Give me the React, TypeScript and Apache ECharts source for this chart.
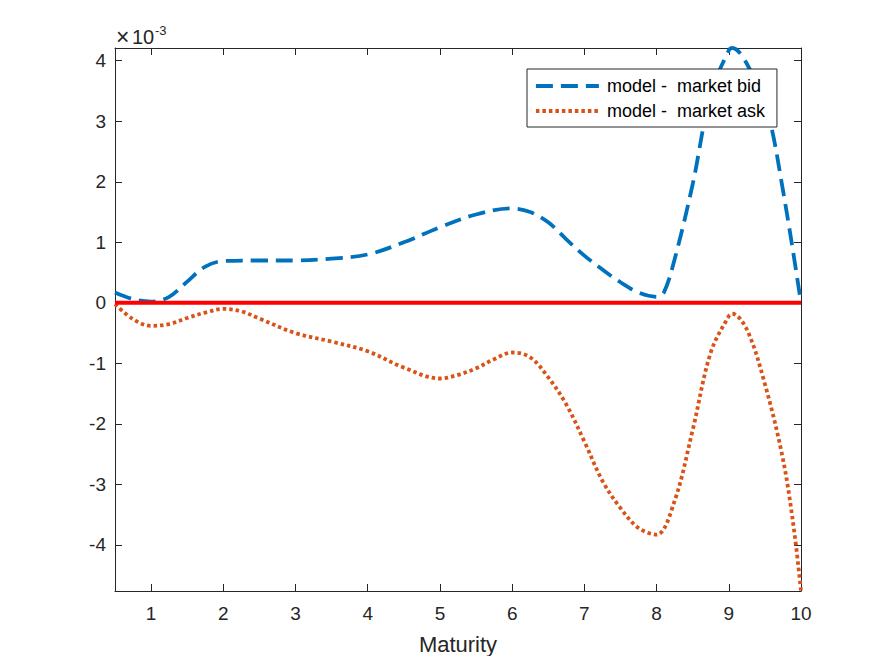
import React, { useEffect, useRef } from "react";
import * as echarts from "echarts";

// Maturity (x) and values in units of 1e-3
const bidX = [0.5, 0.75, 1.0, 1.25, 1.5, 1.75, 2.0, 2.5, 3.0, 3.5, 4.0, 4.5, 5.0, 5.5, 6.0, 6.25, 6.5, 6.75, 7.0, 7.25, 7.5, 7.75, 8.0, 8.1, 8.25, 8.5, 8.75, 9.0, 9.05, 9.25, 9.5, 9.6, 9.73, 9.87, 10.0];
const bidY = [0.17, 0.06, 0.02, 0.1, 0.35, 0.6, 0.69, 0.7, 0.7, 0.73, 0.8, 1.0, 1.25, 1.46, 1.56, 1.5, 1.33, 1.05, 0.78, 0.55, 0.34, 0.17, 0.1, 0.17, 0.72, 1.96, 3.45, 4.17, 4.21, 3.95, 3.25, 2.85, 2.0, 1.0, 0.0];

const askX = [0.5, 0.75, 1.0, 1.25, 1.5, 1.75, 2.0, 2.25, 2.5, 3.0, 3.5, 4.0, 4.5, 5.0, 5.25, 5.5, 5.75, 6.0, 6.25, 6.5, 6.75, 7.0, 7.25, 7.5, 7.75, 8.0, 8.25, 8.5, 8.75, 9.0, 9.05, 9.25, 9.5, 9.75, 9.9, 10.0];
const askY = [-0.02, -0.27, -0.38, -0.35, -0.25, -0.16, -0.1, -0.14, -0.26, -0.5, -0.64, -0.8, -1.07, -1.25, -1.19, -1.08, -0.93, -0.82, -0.9, -1.23, -1.68, -2.29, -2.94, -3.39, -3.72, -3.83, -3.27, -2.1, -0.82, -0.22, -0.18, -0.44, -1.34, -2.58, -3.72, -4.76];

const zeroX = [0.5, 10];
const zeroY = [0, 0];

const seriesNames = ["model -  market bid", "model -  market ask"];
const xRange = [0.5, 10];
const yRange = [-4.76, 4.21];
const exponentText = ["×", "10", "-3"];
const xAxisTitle = "Maturity";

const FONT = "'Liberation Sans', Arial, Helvetica, sans-serif";
const AX = "#262626";

function pairs(xs: number[], ys: number[]) {
  return xs.map((x, i) => [x, ys[i]]);
}

function intLabel(v: number) {
  return Math.abs(v - Math.round(v)) < 1e-6 ? String(Math.round(v)) : "";
}

export default function App() {
  const ref = useRef<HTMLDivElement>(null);
  useEffect(() => {
    if (!ref.current) return;
    const chart = echarts.init(ref.current, undefined, { renderer: "svg" });
    const axisCommon = {
      axisLine: { show: true, onZero: false, lineStyle: { color: AX, width: 1 } },
      axisTick: { show: true, inside: true, length: 7, lineStyle: { color: AX, width: 1 } },
      splitLine: { show: false },
    };
    chart.setOption({
      animation: false,
      backgroundColor: "#fff",
      grid: { left: 115, right: 84, top: 48, bottom: 73, containLabel: false },
      xAxis: [
        {
          type: "value",
          min: xRange[0],
          max: xRange[1],
          splitNumber: 10,
          position: "bottom",
          ...axisCommon,
          axisLabel: {
            formatter: intLabel,
            color: AX,
            fontFamily: FONT,
            fontSize: 19,
            margin: 13,
          },
          name: xAxisTitle,
          nameLocation: "middle",
          nameGap: 42,
          nameTextStyle: { color: AX, fontFamily: FONT, fontSize: 22 },
        },
        {
          type: "value",
          min: xRange[0],
          max: xRange[1],
          splitNumber: 10,
          position: "top",
          ...axisCommon,
          axisLabel: { show: false },
        },
      ],
      yAxis: [
        {
          type: "value",
          min: yRange[0],
          max: yRange[1],
          splitNumber: 9,
          position: "left",
          ...axisCommon,
          axisLabel: {
            formatter: intLabel,
            color: AX,
            fontFamily: FONT,
            fontSize: 19,
            margin: 9,
          },
        },
        {
          type: "value",
          min: yRange[0],
          max: yRange[1],
          splitNumber: 9,
          position: "right",
          ...axisCommon,
          axisLabel: { show: false },
        },
      ],
      legend: {
        data: seriesNames,
        orient: "vertical",
        left: 527,
        top: 69,
        itemWidth: 63,
        itemHeight: 14,
        itemGap: 7,
        padding: [8, 12, 7, 7],
        borderColor: AX,
        borderWidth: 1,
        backgroundColor: "#fff",
        selectedMode: false,
        itemStyle: { opacity: 0, borderWidth: 0 },
        lineStyle: { width: 3.8 },
        textStyle: { color: "#000", fontFamily: FONT, fontSize: 18, padding: [0, 0, 0, 3] },
      },
      graphic: [
        {
          type: "text",
          x: 116,
          y: 37,
          style: { text: exponentText[0], fill: AX, font: `23px ${FONT}`, verticalAlign: "middle" },
        },
        {
          type: "text",
          x: 132,
          y: 37,
          style: { text: exponentText[1], fill: AX, font: `20px ${FONT}`, verticalAlign: "middle" },
        },
        {
          type: "text",
          x: 155,
          y: 30.5,
          style: { text: exponentText[2], fill: AX, font: `13px ${FONT}`, verticalAlign: "middle" },
        },
      ],
      series: [
        {
          name: seriesNames[0],
          type: "line",
          data: pairs(bidX, bidY),
          smooth: 0.35,
          symbol: "none",
          clip: true,
          lineStyle: { color: "#0072BD", width: 3.8, type: [17, 8] },
          itemStyle: { color: "#0072BD" },
          z: 3,
        },
        {
          name: seriesNames[1],
          type: "line",
          data: pairs(askX, askY),
          smooth: 0.35,
          symbol: "none",
          clip: true,
          lineStyle: { color: "#D95319", width: 3.8, type: [3.5, 3] },
          itemStyle: { color: "#D95319" },
          z: 3,
        },
        {
          name: "zero",
          type: "line",
          data: pairs(zeroX, zeroY),
          symbol: "none",
          lineStyle: { color: "#FF0000", width: 4 },
          itemStyle: { color: "#FF0000" },
          z: 4,
        },
      ],
    });
    return () => chart.dispose();
  }, []);
  return <div ref={ref} style={{ width: 885, height: 664, margin: -8 }} />;
}
